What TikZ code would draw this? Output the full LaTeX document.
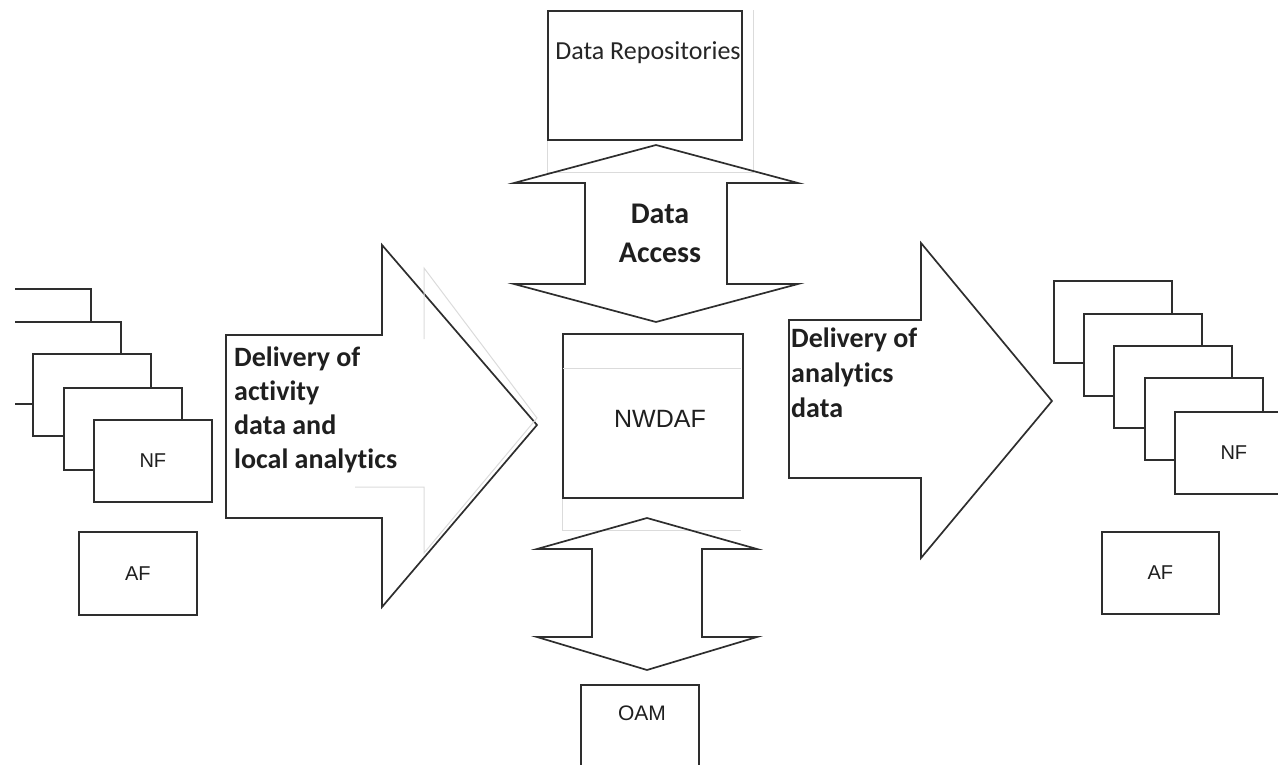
\documentclass[tikz,border=0pt]{standalone}
\usepackage{fontspec}
\setmainfont{Carlito}[Ligatures=NoCommon]
\newfontfamily\arial{Liberation Sans}
\begin{document}
\begin{tikzpicture}[x=1pt,y=-1pt,
  ln/.style={draw=black!82,line width=1.7pt,line join=miter},
  faint/.style={draw=black!14,line width=1pt},
  box/.style={ln,fill=white,minimum width=118pt,minimum height=82pt,anchor=north west,inner sep=0pt},
  sl/.style={font=\arial\fontsize{20}{24}\selectfont,text=black!88},
  bl/.style={font=\bfseries\fontsize{28}{33}\selectfont,text=black!88,anchor=base west,inner sep=0pt},
  dl/.style={font=\bfseries\fontsize{30}{36}\selectfont,text=black!88,anchor=base,inner sep=0pt}]
\useasboundingbox (0,0) rectangle (1278,765);
\clip (15,0) rectangle (1278,765);

% ---------- left stack of NF boxes ----------
\node[box] (lnf1) at (-28,288) {};
\node[box] (lnf2) at (2,321) {};
\node[box] (lnf3) at (32,353) {};
\node[box] (lnf4) at (63,387) {};
\node[box] (lnf5) at (93,419) {};
\node[sl] (lnft) at (lnf5.center) {NF};
\node[box,minimum width=118pt,minimum height=83pt] (laf) at (78,531) {};
\node[sl] (laft) at (laf.center) {AF};

% ---------- right stack of NF boxes ----------
\node[box] (rnf1) at (1053,280) {};
\node[box] (rnf2) at (1083,313) {};
\node[box] (rnf3) at (1113,345) {};
\node[box] (rnf4) at (1144,377) {};
\node[box] (rnf5) at (1174,411) {};
\node[sl] (rnft) at (rnf5.center) {NF};
\node[box,minimum width=117pt,minimum height=82pt] (raf) at (1101,531) {};
\node[sl] (raft) at (raf.center) {AF};

% ---------- data repositories ----------
\draw[faint] (547,139) -- (547,173) -- (753,173) -- (753,10);
\node[box,minimum width=194pt,minimum height=129pt] (repo) at (547,10) {};
\node[font=\fontsize{26}{30}\selectfont,text=black!85,anchor=base] (repot) at (648,60) {Data Repositories};

% ---------- Data Access double arrow ----------
\draw[ln] (656,145) -- (798,183) -- (727,183) -- (727,284) -- (798,284) -- (656,322)
  -- (514,284) -- (585,284) -- (585,183) -- (514,183) -- cycle;
\node[dl] (da1) at (660,223) {Data};
\node[dl] (da2) at (660,262) {Access};

% ---------- NWDAF ----------
\draw[faint] (562,497) -- (562,530) -- (741,530);
\node[box,minimum width=180pt,minimum height=164pt] (nwdaf) at (562,333) {};
\draw[faint] (563,368) -- (741,368);
\node[font=\arial\fontsize{25}{30}\selectfont,text=black!88] (nwdaft) at (660,419) {NWDAF};

% ---------- OAM double arrow ----------
\draw[ln] (647,518) -- (757,549) -- (702,549) -- (702,637) -- (757,637) -- (647,670)
  -- (537,637) -- (592,637) -- (592,549) -- (537,549) -- cycle;
\node[box,minimum width=118pt,minimum height=100pt] (oam) at (580,684) {};
\node[font=\arial\fontsize{21}{25}\selectfont,text=black!88] (oamt) at (642,713) {OAM};

% ---------- left big arrow ----------
\draw[ln] (226,335) -- (382,335) -- (382,245) -- (537,425) -- (382,607) -- (382,518)
  -- (226,518) -- cycle;
\draw[faint] (424,339) -- (424,268) -- (537,418) -- (424,553) -- (424,487) -- (355,487);
\node[bl] (la1) at (234,366) {Delivery of};
\node[bl] (la2) at (234,400) {activity};
\node[bl] (la3) at (234,434) {data and};
\node[bl] (la4) at (234,468) {local analytics};

% ---------- right big arrow ----------
\draw[ln] (789,320) -- (921,320) -- (921,243) -- (1052,401) -- (921,558) -- (921,478)
  -- (789,478) -- cycle;
\node[bl] (ra1) at (791,347) {Delivery of};
\node[bl] (ra2) at (791,382) {analytics};
\node[bl] (ra3) at (791,417) {data};
\end{tikzpicture}
\end{document}
